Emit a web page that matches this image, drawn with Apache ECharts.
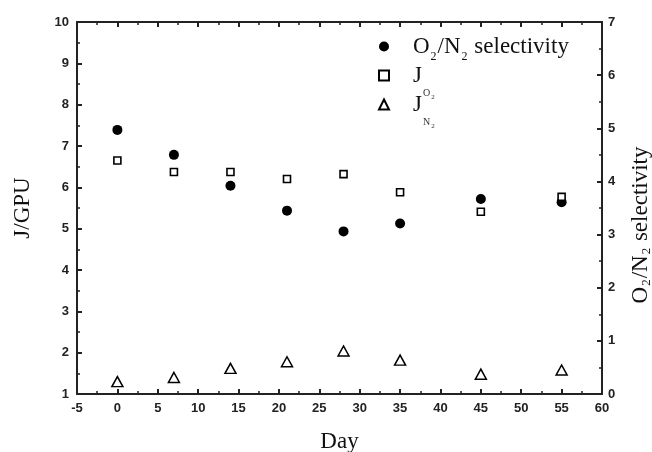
<!DOCTYPE html>
<html>
<head>
<meta charset="utf-8">
<script src="https://cdn.jsdelivr.net/npm/echarts@6/dist/echarts.min.js"></script>
<style>
  html, body { margin: 0; padding: 0; background: #fff; }
  #chart { width: 652px; height: 452px; }
</style>
</head>
<body>
<div id="chart"></div>
<script>
// days of measurement
const days = [0, 7, 14, 21, 28, 35, 45, 55];
// O2/N2 selectivity (right axis)
const selectivity = [4.97, 4.50, 3.92, 3.45, 3.06, 3.21, 3.67, 3.61];
// J O2 flux, GPU (left axis)
const jO2 = [6.65, 6.37, 6.37, 6.20, 6.32, 5.88, 5.41, 5.77];
// J N2 flux, GPU (left axis)
const jN2 = [1.30, 1.40, 1.62, 1.78, 2.04, 1.82, 1.48, 1.58];

const pairs = (ys) => days.map((d, i) => [d, ys[i]]);

const chart = echarts.init(document.getElementById('chart'));

const tickFont = { color: '#222', fontFamily: 'Liberation Sans', fontWeight: 'bold', fontSize: 13 };
const lineStyle = { color: '#222', width: 2 };
const serif = 'Liberation Serif';
const minor = { show: true, splitNumber: 2, length: 3, lineStyle: { color: '#222', width: 1.5 } };

// legend rows: every token is 52px tall so the row stays centred on the icon
const legendNames = {
  sel: '{a|O}{s|2}{a|/N}{s|2}{a| selectivity}',
  jo2: '{a|J}{so|O}{ss|2}',
  jn2: '{a|J}{so|N}{ss|2}'
};

chart.setOption({
  animation: false,
  grid: { left: 77, top: 22, right: 50, bottom: 58, outerBoundsMode: 'none' },
  legend: {
    orient: 'vertical',
    left: 373,
    top: 15,
    itemGap: -24,
    itemWidth: 10,
    itemHeight: 10,
    data: [
      { name: 'sel' },
      { name: 'jo2' },
      { name: 'jn2' }
    ],
    formatter: (name) => legendNames[name],
    textStyle: {
      padding: [0, 0, 0, 19],
      rich: {
        a: { fontFamily: serif, fontSize: 23, lineHeight: 22, color: '#111', padding: [15, 0, 15, 0] },
        s: { fontFamily: serif, fontSize: 12, lineHeight: 12, color: '#111', padding: [30, 1, 10, 1] },
        so: { fontFamily: serif, fontSize: 10, lineHeight: 10, color: '#333', padding: [39, 0, 3, 1] },
        ss: { fontFamily: serif, fontSize: 7, lineHeight: 7, color: '#333', padding: [44, 0, 1, 1] }
      }
    }
  },
  xAxis: [
    {
      type: 'value', min: -5, max: 60, interval: 5,
      name: 'Day', nameLocation: 'middle', nameGap: 36,
      nameTextStyle: { fontFamily: serif, fontSize: 23, color: '#111' },
      axisLine: { onZero: false, lineStyle },
      axisTick: { inside: true, length: 5, lineStyle },
      minorTick: minor,
      axisLabel: Object.assign({ margin: 8 }, tickFont),
      splitLine: { show: false }
    },
    {
      type: 'value', min: -5, max: 60, interval: 5, position: 'top',
      axisLine: { onZero: false, lineStyle },
      axisTick: { inside: true, length: 5, lineStyle },
      minorTick: minor,
      axisLabel: { show: false },
      splitLine: { show: false }
    }
  ],
  yAxis: [
    {
      type: 'value', min: 1, max: 10, interval: 1,
      name: 'J/GPU', nameLocation: 'middle', nameGap: 43,
      nameTextStyle: { fontFamily: serif, fontSize: 23, color: '#111' },
      axisLine: { onZero: false, lineStyle },
      axisTick: { inside: true, length: 5, lineStyle },
      minorTick: minor,
      axisLabel: Object.assign({ margin: 8 }, tickFont),
      splitLine: { show: false }
    },
    {
      type: 'value', min: 0, max: 7, interval: 1, position: 'right',
      name: '{a|O}{s|2}{a|/N}{s|2}{a| selectivity}', nameLocation: 'middle', nameGap: 26,
      nameRotate: 90,
      nameTextStyle: {
        padding: [0, 34, 0, 0],
        rich: {
          a: { fontFamily: serif, fontSize: 23, color: '#111' },
          s: { fontFamily: serif, fontSize: 13, color: '#111', padding: [12, 1, 0, 1] }
        }
      },
      axisLine: { onZero: false, lineStyle },
      axisTick: { inside: true, length: 5, lineStyle },
      minorTick: minor,
      axisLabel: Object.assign({ margin: 6 }, tickFont),
      splitLine: { show: false }
    }
  ],
  series: [
    {
      name: 'sel', type: 'scatter', xAxisIndex: 0, yAxisIndex: 1,
      symbol: 'circle', symbolSize: 10,
      itemStyle: { color: '#000', opacity: 1 },
      data: pairs(selectivity)
    },
    {
      name: 'jo2', type: 'scatter', xAxisIndex: 0, yAxisIndex: 0,
      symbol: 'rect', symbolSize: 7,
      itemStyle: { color: '#fff', borderColor: '#000', borderWidth: 1.6, opacity: 1 },
      data: pairs(jO2)
    },
    {
      name: 'jn2', type: 'scatter', xAxisIndex: 0, yAxisIndex: 0,
      symbol: 'triangle', symbolSize: [11, 10],
      itemStyle: { color: '#fff', borderColor: '#000', borderWidth: 1.5, opacity: 1 },
      data: pairs(jN2)
    }
  ]
});
</script>
</body>
</html>
